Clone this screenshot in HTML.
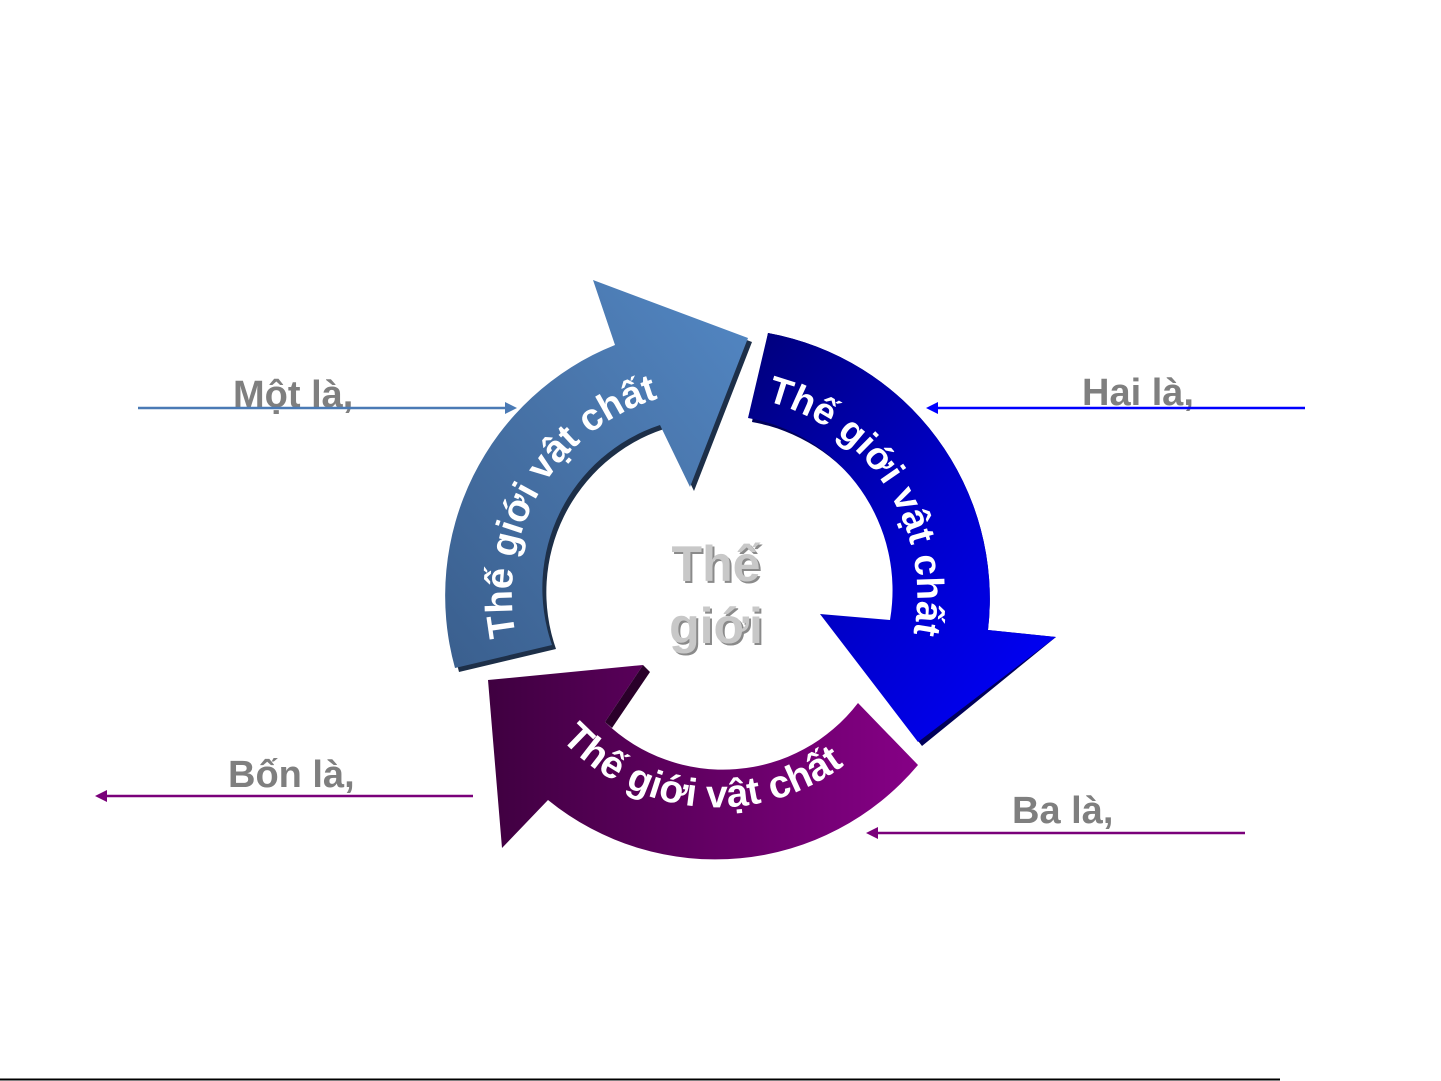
<!DOCTYPE html>
<html><head><meta charset="utf-8"><style>
html,body{margin:0;padding:0;background:#fff;}
svg{display:block;}
</style></head><body>
<svg width="1441" height="1081" viewBox="0 0 1441 1081" xmlns="http://www.w3.org/2000/svg" font-family="Liberation Sans, DejaVu Sans, sans-serif">
<defs>
<linearGradient id="g1" x1="0" y1="1" x2="1" y2="0"><stop offset="0" stop-color="#3a5f8e"/><stop offset="0.6" stop-color="#4a77ad"/><stop offset="1" stop-color="#5287c4"/></linearGradient>
<linearGradient id="g2" x1="0" y1="0" x2="1" y2="1"><stop offset="0" stop-color="#00007a"/><stop offset="0.5" stop-color="#0000c8"/><stop offset="1" stop-color="#0000ff"/></linearGradient>
<linearGradient id="g3" x1="0" y1="0" x2="1" y2="0"><stop offset="0" stop-color="#3f0040"/><stop offset="1" stop-color="#860086"/></linearGradient>
<path id="t1" d="M516,636 A205,205 0 0 1 717,390"/>
<path id="t2" d="M766,401 A200,200 0 0 1 870,724"/>
<path id="t3" d="M561,739 A212,212 0 0 0 873,739"/>
</defs>
<path d="M459,672 A270,270 0 0 1 619,349 L597,284 L752,342 L694,491 L664,429 A172,172 0 0 0 556,649 Z" fill="#1d2f48"/>
<path d="M455,668 A270,270 0 0 1 615,345 L593,280 L748,338 L690,487 L660,425 A172,172 0 0 0 552,645 Z" fill="url(#g1)"/>
<path d="M752,422 A175,175 0 0 1 894,624 L824,618 L922,746 L1056,637 L988,630 A270,270 0 0 0 768,333 Z" fill="#00005a"/>
<path d="M768,333 A270,270 0 0 1 988,630 L1056,637 L918,742 L820,614 L890,620 A175,175 0 0 0 748,418 Z" fill="url(#g2)"/>
<path d="M918,765 A265,265 0 0 1 548,800 L502,848 L488,680 L643,665 L605,722 A170,170 0 0 0 858,703 Z" fill="url(#g3)"/>
<path d="M643,665 L605,722 L612,728 L650,672 Z" fill="#2a002a"/>
<text font-size="38" fill="#fff" font-weight="bold"><textPath href="#t1">Thế giới vật chất</textPath></text>
<text font-size="38" fill="#fff" font-weight="bold"><textPath href="#t2">Thế giới vật chất</textPath></text>
<text font-size="39" fill="#fff" font-weight="bold"><textPath href="#t3">Thế giới vật chất</textPath></text>
<g font-size="50" font-weight="bold" text-anchor="middle">
<text x="718" y="583" fill="#8a8a8a">Thế</text><text x="716" y="581" fill="#c8c8c8">Thế</text>
<text x="718" y="645" fill="#8a8a8a">giới</text><text x="716" y="643" fill="#c8c8c8">giới</text>
</g>
<g font-size="38" font-weight="bold" fill="#7f7f7f">
<text x="233" y="407">Một là,</text>
<text x="1082" y="405">Hai là,</text>
<text x="228" y="787">Bốn là,</text>
<text x="1012" y="823">Ba là,</text>
</g>
<line x1="138" y1="408" x2="508" y2="408" stroke="#4a7ab5" stroke-width="2.5"/>
<path d="M517,408 L505,402 L505,414 Z" fill="#4a7ab5"/>
<line x1="1305" y1="408" x2="936" y2="408" stroke="#0000ff" stroke-width="2.5"/>
<path d="M926,408 L938,402 L938,414 Z" fill="#0000ff"/>
<line x1="473" y1="796" x2="104" y2="796" stroke="#7a007a" stroke-width="2.5"/>
<path d="M95,796 L107,790 L107,802 Z" fill="#7a007a"/>
<line x1="1245" y1="833" x2="876" y2="833" stroke="#7a007a" stroke-width="2.5"/>
<path d="M866,833 L878,827 L878,839 Z" fill="#7a007a"/>
<line x1="0" y1="1079.5" x2="1280" y2="1079.5" stroke="#000" stroke-width="2"/>
</svg>
</body></html>
